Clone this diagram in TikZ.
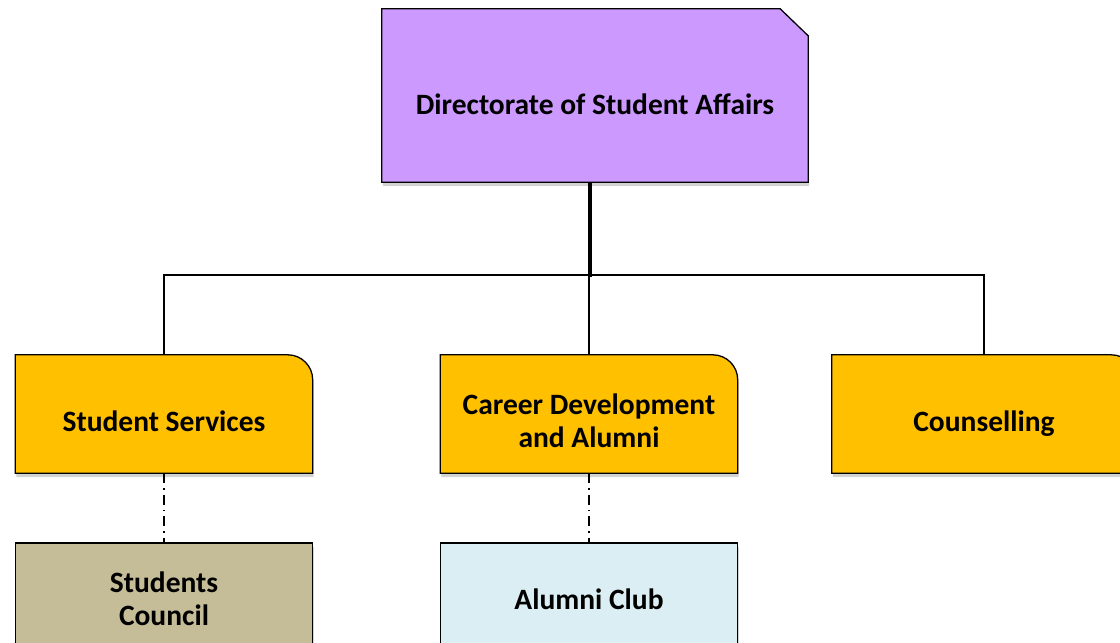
\documentclass[tikz,border=0pt]{standalone}
\usepackage{fontspec}
\setmainfont{Carlito}
\usetikzlibrary{shadows,positioning}
\definecolor{dirpurple}{HTML}{CC99FF}
\definecolor{unitorange}{HTML}{FFC000}
\definecolor{counciltan}{HTML}{C4BD97}
\definecolor{clubblue}{HTML}{DAEEF3}

\begin{document}
\begin{tikzpicture}[x=1pt,y=-1pt]
\tikzstyle{every node} = [inner sep=0pt];
\tikzstyle{txt} = [font=\bfseries\fontsize{29.5}{33}\selectfont, align=center];
\tikzstyle{shade} = [drop shadow={opacity=0.35, shadow xshift=1pt, shadow yshift=-4pt}];
\tikzstyle{unit} = [minimum width=297pt, minimum height=118pt];
\tikzstyle{sub} = [txt, draw, line width=1.3pt, minimum width=297pt, minimum height=112pt, shade];
\tikzstyle{link} = [dash pattern=on 10pt off 5pt on 1.5pt off 5pt, line width=1.4pt];
\useasboundingbox (0,0) rectangle (1120,643);
\clip (0,0) rectangle (1120,643);

% head of the directorate
\node[minimum width=426pt, minimum height=173pt] (dsa) at (595,95.5) {};
\draw[line width=1.3pt, fill=dirpurple, shade] (dsa.south west) -- (dsa.north west)
  -- ([xshift=-28pt]dsa.north east) -- ([yshift=-27pt]dsa.north east)
  -- (dsa.south east) -- cycle;
\node[txt] (dsatxt) at ([yshift=-8.5pt]dsa.center) {Directorate of Student Affairs};

% units
\node[unit] (serv) at (164,414) {};
\node[unit] (cdev) at (589,414) {};
\node[unit, minimum width=304pt] (couns) at (984,414) {};
\foreach \n in {serv,cdev,couns}
  \draw[line width=1.3pt, fill=unitorange, shade] (\n.south west) -- (\n.north west)
    -- ([xshift=-25pt]\n.north east) arc[start angle=90, end angle=0, radius=25pt]
    -- (\n.south east) -- cycle;
\node[txt] (servtxt) at ([yshift=-7pt]serv.center) {Student Services};
\node[txt] (cdevtxt) at ([yshift=-7pt]cdev.center) {Career Development\\and Alumni};
\node[txt] (counstxt) at ([yshift=-10pt]couns.center) {Counselling};

% sub units
\node[sub, fill=counciltan] (council) at (164,599) {Students\\Council};
\node[sub, fill=clubblue] (club) at (589,599) {Alumni Club};

\coordinate (bus) at (590,275);
\draw[line width=3.5pt] (bus |- dsa.south) -- ([yshift=-2pt]bus);
\draw[line width=1.2pt] (serv.north) |- (bus) -| (couns.north);
\draw[line width=1.2pt] (cdev.north |- bus) -- (cdev.north);
\draw[link] (serv.south) -- (council.north);
\draw[link] (cdev.south) -- (club.north);
\end{tikzpicture}
\end{document}
